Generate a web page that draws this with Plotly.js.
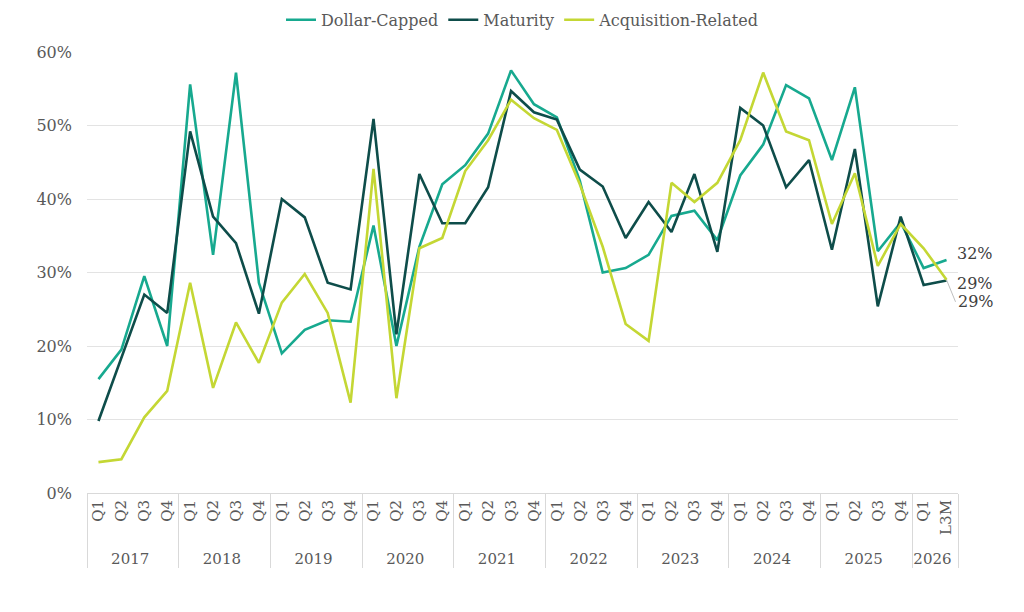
<!DOCTYPE html>
<html>
<head>
<meta charset="utf-8">
<script src="https://cdn.plot.ly/plotly-3.0.1.min.js"></script>
<style>
  html, body { margin: 0; padding: 0; background: #fff; }
  #chart { width: 1024px; height: 612px; }
</style>
</head>
<body>
<div id="chart"></div>
<script>
// Данные
const years = ["2017", "2018", "2019", "2020", "2021", "2022", "2023", "2024", "2025"];
const quarters = ["Q1", "Q2", "Q3", "Q4"];
const lastYear = "2026";
const lastPeriods = ["Q1", "L3M"];

const dollarCapped = [
  15.5, 19.5, 29.5, 20.0,
  55.6, 32.4, 57.2, 28.6,
  19.0, 22.2, 23.5, 23.3,
  36.4, 20.0, 33.5, 42.0,
  44.6, 48.9, 57.5, 52.9,
  51.1, 42.5, 30.0, 30.6,
  32.4, 37.7, 38.4, 34.4,
  43.2, 47.4, 55.5, 53.7,
  45.3, 55.2, 32.9, 36.8,
  30.6, 31.7,
];

const maturity = [
  9.8, 18.5, 27.0, 24.5,
  49.2, 37.6, 34.0, 24.4,
  40.0, 37.5, 28.6, 27.7,
  50.9, 21.6, 43.4, 36.7,
  36.7, 41.6, 54.7, 51.8,
  50.8, 44.0, 41.7, 34.7,
  39.6, 35.5, 43.4, 32.8,
  52.4, 50.0, 41.6, 45.3,
  33.1, 46.8, 25.4, 37.6,
  28.3, 28.9,
];

const acquisitionRelated = [
  4.2, 4.6, 10.3, 13.9,
  28.6, 14.3, 23.2, 17.7,
  25.9, 29.8, 24.5, 12.3,
  44.1, 12.9, 33.3, 34.7,
  43.8, 48.0, 53.5, 51.0,
  49.4, 42.0, 33.5, 23.0,
  20.7, 42.2, 39.6, 42.2,
  48.0, 57.2, 49.2, 48.0,
  36.6, 43.5, 30.9, 36.6,
  33.3, 29.0,
];

// Оси X (две строки подписей)
const outerLabels = [];
const innerLabels = [];
for (const y of years) {
  for (const q of quarters) {
    outerLabels.push(y);
    innerLabels.push(q);
  }
}
for (const p of lastPeriods) {
  outerLabels.push(lastYear);
  innerLabels.push(p);
}

const pct = (arr) => arr.map((v) => v / 100);
const lastIdx = innerLabels.length - 1;

const FONT = "DejaVu Serif, Georgia, serif";
const TEXT_COLOR = "#595959";

const series = [
  { name: "Dollar-Capped", values: dollarCapped, color: "#17A98F" },
  { name: "Maturity", values: maturity, color: "#0E4D4A" },
  { name: "Acquisition-Related", values: acquisitionRelated, color: "#C4D734" },
];

const traces = series.map((s) => ({
  x: [outerLabels, innerLabels],
  y: pct(s.values),
  name: s.name,
  type: "scatter",
  mode: "lines",
  line: { color: s.color, width: 2.6 },
  hoverinfo: "skip",
}));

const endLabel = (val) => Math.round(val) + "%";

const annotations = [
  {
    x: lastIdx, y: dollarCapped[lastIdx] / 100, xref: "x", yref: "y",
    text: endLabel(dollarCapped[lastIdx]), showarrow: false,
    xanchor: "left", yanchor: "middle", xshift: 8, yshift: 7,
    font: { family: FONT, size: 16, color: "#404040" },
  },
  {
    x: lastIdx, y: maturity[lastIdx] / 100, xref: "x", yref: "y",
    text: endLabel(maturity[lastIdx]), showarrow: false,
    xanchor: "left", yanchor: "middle", xshift: 8, yshift: -3,
    font: { family: FONT, size: 16, color: "#404040" },
  },
  {
    x: lastIdx, y: acquisitionRelated[lastIdx] / 100, xref: "x", yref: "y",
    text: endLabel(acquisitionRelated[lastIdx]), showarrow: true,
    arrowhead: 0, arrowwidth: 1, arrowcolor: "#bfbfbf",
    ax: 9, ay: 22, xanchor: "left", yanchor: "middle",
    font: { family: FONT, size: 16, color: "#404040" },
  },
];

const layout = {
  width: 1024,
  height: 612,
  margin: { l: 87, r: 66, t: 52, b: 119, autoexpand: false },
  paper_bgcolor: "#ffffff",
  plot_bgcolor: "#ffffff",
  font: { family: FONT, color: TEXT_COLOR, size: 15 },
  showlegend: true,
  legend: {
    orientation: "h",
    x: 0.5, xanchor: "center",
    y: 1.073, yanchor: "middle",
    font: { family: FONT, size: 16, color: TEXT_COLOR },
    itemwidth: 30,
    traceorder: "normal",
  },
  xaxis: {
    type: "multicategory",
    range: [-0.5, lastIdx + 0.5],
    tickangle: -90,
    showgrid: false,
    showline: true,
    linecolor: "#d9d9d9",
    linewidth: 1,
    showdividers: true,
    dividercolor: "#d9d9d9",
    dividerwidth: 1,
    ticks: "",
    tickfont: { family: FONT, size: 15, color: TEXT_COLOR },
    zeroline: false,
    fixedrange: true,
  },
  yaxis: {
    range: [0, 0.6],
    dtick: 0.1,
    tickformat: ".0%",
    showgrid: true,
    gridcolor: "#e3e3e3",
    gridwidth: 1,
    zeroline: false,
    showline: false,
    ticks: "",
    ticklabelstandoff: 14,
    tickfont: { family: FONT, size: 16, color: TEXT_COLOR },
    fixedrange: true,
  },
  annotations: annotations,
};

Plotly.newPlot("chart", traces, layout, { displayModeBar: false, staticPlot: true });
</script>
</body>
</html>
